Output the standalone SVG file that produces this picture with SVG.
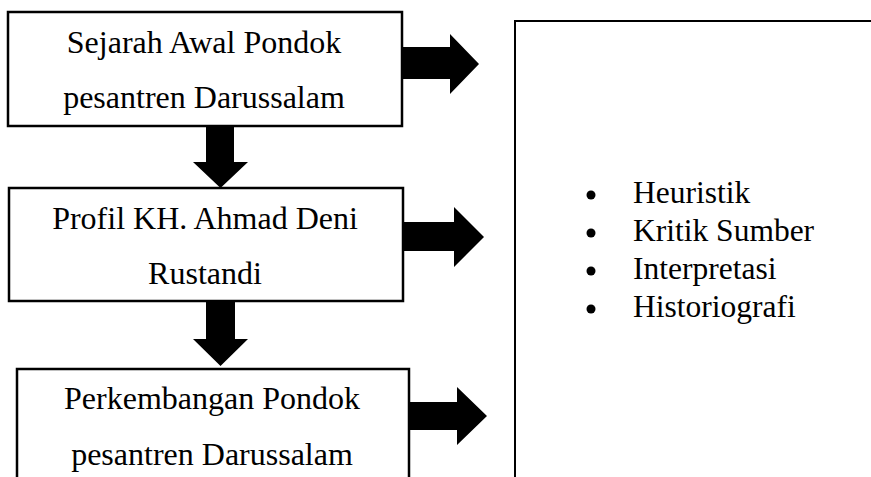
<svg xmlns="http://www.w3.org/2000/svg" width="871" height="477" viewBox="0 0 871 477">
<style>
.box{fill:#fff;stroke:#000;stroke-width:2.5}
.big{fill:none;stroke:#000;stroke-width:2}
.t{font-family:"Liberation Serif","Times New Roman",serif;font-size:32px;fill:#000;text-anchor:middle}
.li{font-family:"Liberation Serif","Times New Roman",serif;font-size:31.5px;fill:#000}
.arr{fill:#000}
</style>
<rect width="871" height="477" fill="#fff"/>
<g id="method">
<rect class="big" x="515" y="21" width="420" height="500"/>
<circle cx="591" cy="195" r="4.5"/>
<circle cx="591" cy="233" r="4.5"/>
<circle cx="591" cy="271" r="4.5"/>
<circle cx="591" cy="309" r="4.5"/>
<text class="li" x="633" y="203">Heuristik</text>
<text class="li" x="633" y="241">Kritik Sumber</text>
<text class="li" x="633" y="279">Interpretasi</text>
<text class="li" x="633" y="317">Historiografi</text>
</g>
<g id="connectors">
<polygon class="arr" points="402,47 450,47 450,34 479,64 450,94 450,79 402,79"/>
<polygon class="arr" points="403,222 454,222 454,207 484,237 454,267 454,251 403,251"/>
<polygon class="arr" points="409,402 457,402 457,387 487,416 457,445 457,430 409,430"/>
<polygon class="arr" points="206,126 234,126 234,162 248,162 220.5,188 193,162 206,162"/>
<polygon class="arr" points="206,301 235,301 235,339 248,339 220.5,366 193,339 206,339"/>
</g>
<g id="node1">
<rect class="box" x="8" y="12" width="394" height="114"/>
<text class="t" x="204" y="53">Sejarah Awal Pondok</text>
<text class="t" x="204" y="108">pesantren Darussalam</text>
</g>
<g id="node2">
<rect class="box" x="9" y="188" width="394" height="113"/>
<text class="t" x="205" y="229">Profil KH. Ahmad Deni</text>
<text class="t" x="205" y="284">Rustandi</text>
</g>
<g id="node3">
<rect class="box" x="17" y="369" width="392" height="150"/>
<text class="t" x="212" y="409">Perkembangan Pondok</text>
<text class="t" x="212" y="465">pesantren Darussalam</text>
</g>
</svg>
